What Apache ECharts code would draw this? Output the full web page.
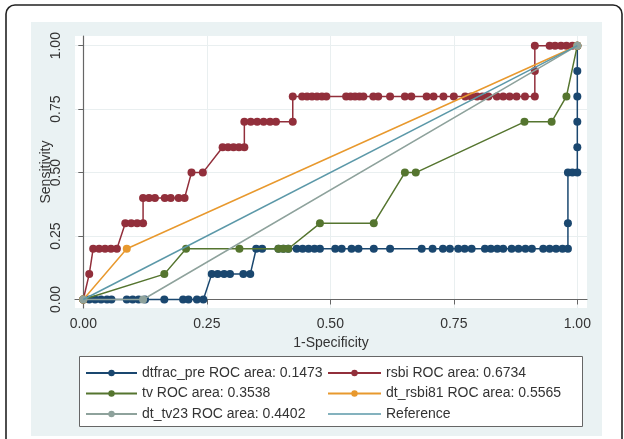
<!DOCTYPE html>
<html>
<head>
<meta charset="utf-8">
<script src="https://cdn.jsdelivr.net/npm/echarts@6/dist/echarts.min.js"></script>
<style>
  html, body { margin: 0; padding: 0; background: #fff; }
  #chart { width: 624px; height: 439px; }
</style>
</head>
<body>
<div id="chart"></div>
<script>
// ROC curves, points as [1-specificity, sensitivity]
const tickValues = [0, 0.25, 0.5, 0.75, 1];

const dtfracPre = [
  [0, 0], [0.012, 0], [0.024, 0], [0.036, 0], [0.048, 0], [0.057, 0],
  [0.088, 0], [0.1, 0], [0.112, 0], [0.125, 0], [0.164, 0],
  [0.202, 0], [0.213, 0], [0.23, 0], [0.243, 0],
  [0.26, 0.1], [0.272, 0.1], [0.285, 0.1], [0.297, 0.1], [0.324, 0.1], [0.338, 0.1],
  [0.35, 0.2], [0.362, 0.2], [0.395, 0.2], [0.405, 0.2], [0.415, 0.2],
  [0.432, 0.2], [0.444, 0.2], [0.456, 0.2], [0.468, 0.2], [0.479, 0.2],
  [0.51, 0.2], [0.523, 0.2], [0.543, 0.2], [0.557, 0.2], [0.588, 0.2], [0.621, 0.2],
  [0.685, 0.2], [0.707, 0.2], [0.728, 0.2], [0.742, 0.2], [0.759, 0.2], [0.772, 0.2],
  [0.786, 0.2], [0.813, 0.2], [0.825, 0.2], [0.838, 0.2], [0.85, 0.2], [0.867, 0.2],
  [0.881, 0.2], [0.895, 0.2], [0.908, 0.2], [0.931, 0.2], [0.944, 0.2], [0.957, 0.2],
  [0.97, 0.2], [0.981, 0.2], [0.981, 0.3], [0.981, 0.5], [0.99, 0.5], [1, 0.5],
  [1, 0.6], [1, 0.7], [1, 0.8], [1, 0.9], [1, 1]
];

const rsbi = [
  [0, 0], [0.012, 0.1], [0.02, 0.2], [0.032, 0.2], [0.044, 0.2], [0.056, 0.2], [0.068, 0.2],
  [0.085, 0.3], [0.097, 0.3], [0.109, 0.3], [0.121, 0.3],
  [0.121, 0.4], [0.133, 0.4], [0.145, 0.4], [0.165, 0.4], [0.177, 0.4], [0.193, 0.4], [0.205, 0.4],
  [0.219, 0.5], [0.242, 0.5],
  [0.282, 0.6], [0.293, 0.6], [0.304, 0.6], [0.315, 0.6], [0.326, 0.6],
  [0.326, 0.7], [0.339, 0.7], [0.352, 0.7], [0.365, 0.7], [0.378, 0.7], [0.39, 0.7], [0.424, 0.7],
  [0.424, 0.8], [0.443, 0.8], [0.453, 0.8], [0.463, 0.8], [0.473, 0.8], [0.483, 0.8], [0.492, 0.8],
  [0.532, 0.8], [0.541, 0.8], [0.55, 0.8], [0.559, 0.8], [0.567, 0.8], [0.587, 0.8], [0.597, 0.8],
  [0.621, 0.8], [0.651, 0.8], [0.664, 0.8], [0.695, 0.8], [0.709, 0.8], [0.729, 0.8], [0.75, 0.8],
  [0.773, 0.8], [0.785, 0.8], [0.797, 0.8], [0.808, 0.8], [0.82, 0.8], [0.837, 0.8], [0.85, 0.8],
  [0.863, 0.8], [0.877, 0.8], [0.894, 0.8], [0.914, 0.8],
  [0.914, 0.9], [0.914, 1], [0.944, 1], [0.955, 1], [0.967, 1], [0.978, 1], [0.99, 1], [1, 1]
];

const tv = [
  [0, 0], [0.164, 0.1], [0.208, 0.2], [0.316, 0.2], [0.395, 0.2], [0.405, 0.2], [0.415, 0.2],
  [0.479, 0.3], [0.588, 0.3], [0.651, 0.5], [0.673, 0.5], [0.893, 0.7], [0.948, 0.7],
  [0.978, 0.8], [1, 1]
];

const dtRsbi81 = [[0, 0], [0.088, 0.2], [1, 1]];
const dtTv23 = [[0, 0], [0.121, 0], [1, 1]];
const reference = [[0, 0], [1, 1]];

const names = [
  'dtfrac_pre ROC area: 0.1473',
  'rsbi ROC area: 0.6734',
  'tv ROC area: 0.3538',
  'dt_rsbi81 ROC area: 0.5565',
  'dt_tv23 ROC area: 0.4402',
  'Reference'
];
const colors = ['#1a476f', '#922f3b', '#55752f', '#e8992e', '#8ea29c', '#5b98a8'];

const font = 'Liberation Sans, Arial, sans-serif';

function rocSeries(i, data, withSymbol) {
  return {
    name: names[i],
    type: 'line',
    data: data,
    symbol: withSymbol ? 'circle' : 'none',
    symbolSize: 8,
    showAllSymbol: true,
    lineStyle: { color: colors[i], width: 1.5 },
    itemStyle: { color: colors[i] },
    emphasis: { disabled: true },
    z: 2 + i
  };
}

const legendText = { color: '#333', fontSize: 14, fontFamily: font, lineHeight: 16 };

const chart = echarts.init(document.getElementById('chart'));
chart.setOption({
  animation: false,
  backgroundColor: '#fff',
  graphic: [
    {
      type: 'rect', z: -20, silent: true,
      shape: { x: 6, y: 5, width: 616, height: 470, r: 9 },
      style: { fill: '#fff', stroke: '#222', lineWidth: 1.6 }
    },
    {
      type: 'rect', z: -10, silent: true,
      shape: { x: 31, y: 22, width: 571, height: 414 },
      style: { fill: '#eaf2f3' }
    },
    {
      type: 'rect', z: 1, silent: true,
      shape: { x: 79.5, y: 356.5, width: 503, height: 70 },
      style: { fill: '#fff', stroke: '#666', lineWidth: 1 }
    }
  ],
  grid: {
    left: 75, right: 37, top: 36, bottom: 131,
    show: true, backgroundColor: '#fff', borderWidth: 0
  },
  xAxis: {
    type: 'value',
    min: -0.0168, max: 1.0196,
    name: '1-Specificity',
    nameLocation: 'middle',
    nameGap: 26,
    nameTextStyle: { color: '#333', fontSize: 14, fontFamily: font },
    axisLine: { show: true, lineStyle: { color: '#666', width: 1.2 } },
    axisTick: { show: true, customValues: tickValues, length: 5, lineStyle: { color: '#666' } },
    axisLabel: {
      customValues: tickValues,
      formatter: v => v.toFixed(2),
      color: '#333', fontSize: 14, fontFamily: font, margin: 9
    },
    splitLine: { show: true, lineStyle: { color: '#e9eff0', width: 1 } }
  },
  yAxis: {
    type: 'value',
    min: -0.0335, max: 1.0382,
    name: 'Sensitivity',
    nameLocation: 'middle',
    nameGap: 22,
    nameRotate: 90,
    nameMoveOverlap: false,
    nameTextStyle: { color: '#333', fontSize: 14, fontFamily: font },
    axisLine: { show: true, lineStyle: { color: '#666', width: 1.2 } },
    axisTick: { show: true, customValues: tickValues, length: 5, lineStyle: { color: '#666' } },
    axisLabel: {
      customValues: tickValues,
      formatter: v => v.toFixed(2),
      rotate: 90,
      color: '#333', fontSize: 14, fontFamily: font, margin: 12
    },
    splitLine: { show: true, lineStyle: { color: '#e9eff0', width: 1 } }
  },
  legend: [
    {
      data: [names[0], names[2], names[4]],
      orient: 'vertical',
      left: 80, top: 360,
      itemWidth: 51, itemHeight: 8, itemGap: 4.5,
      textStyle: legendText,
      selectedMode: false
    },
    {
      data: [
        names[1],
        names[3],
        { name: names[5], icon: 'path://M0,0L100,0L100,2.6L0,2.6Z' }
      ],
      orient: 'vertical',
      left: 322, top: 360,
      itemWidth: 53, itemHeight: 8, itemGap: 4.5,
      textStyle: legendText,
      selectedMode: false
    }
  ],
  series: [
    rocSeries(0, dtfracPre, true),
    rocSeries(1, rsbi, true),
    rocSeries(2, tv, true),
    rocSeries(3, dtRsbi81, true),
    rocSeries(4, dtTv23, true),
    rocSeries(5, reference, false)
  ]
});
</script>
</body>
</html>
